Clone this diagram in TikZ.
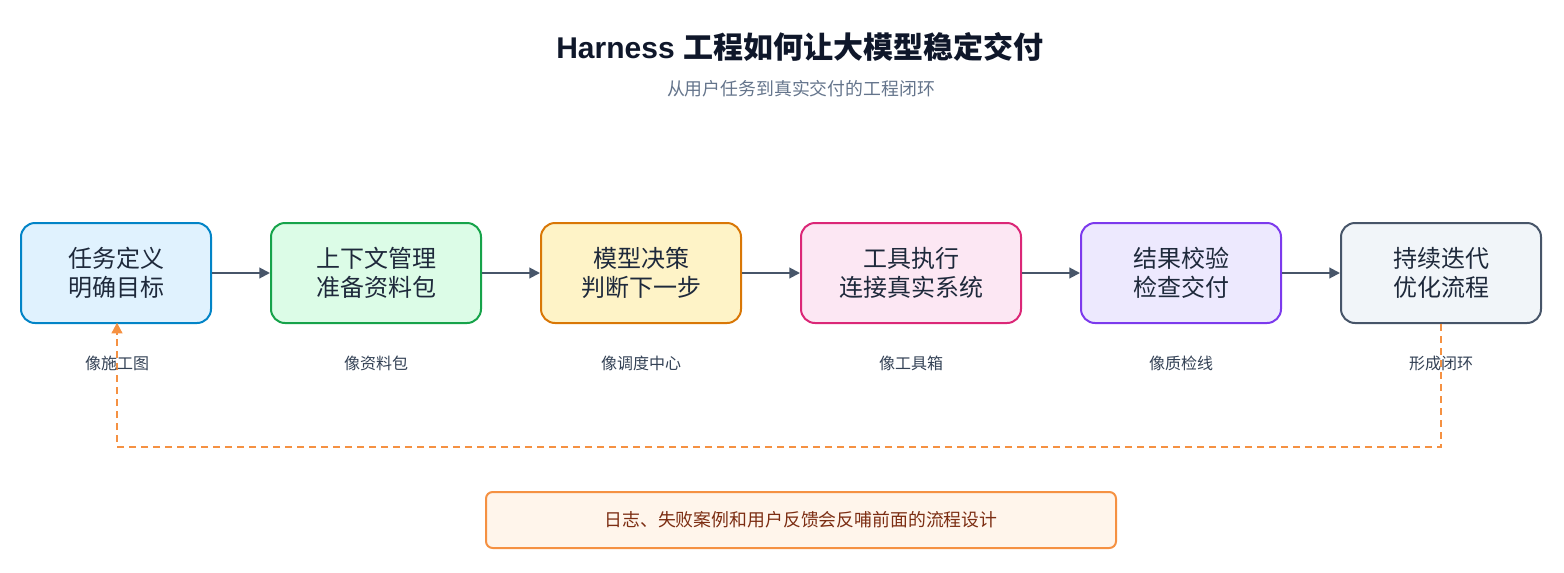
\documentclass[tikz,border=0pt]{standalone}
\usepackage{fontspec}
\setmainfont{Noto Sans CJK SC}
\newfontfamily\latinfont{Liberation Sans}
\usetikzlibrary{arrows.meta}
\definecolor{titlec}{HTML}{0F172A}
\definecolor{subc}{HTML}{64748B}
\definecolor{txtc}{HTML}{1E293B}
\definecolor{lblc}{HTML}{334155}
\definecolor{arrc}{HTML}{475569}
\definecolor{orng}{HTML}{F59142}
\definecolor{notefill}{HTML}{FFF5EB}
\definecolor{notetxt}{HTML}{7C2D12}
\definecolor{bA}{HTML}{0284C7}\definecolor{fA}{HTML}{E0F2FE}
\definecolor{bB}{HTML}{16A34A}\definecolor{fB}{HTML}{DCFCE7}
\definecolor{bC}{HTML}{D97706}\definecolor{fC}{HTML}{FEF3C7}
\definecolor{bD}{HTML}{DB2777}\definecolor{fD}{HTML}{FCE7F3}
\definecolor{bE}{HTML}{7C3AED}\definecolor{fE}{HTML}{EDE9FE}
\definecolor{bF}{HTML}{475569}\definecolor{fF}{HTML}{F1F5F9}
\tikzset{
  stagebox/.style={draw=#1, line width=1.5pt, rounded corners=10.5pt, minimum height=75pt, align=center, text=txtc, font=\fontsize{18}{21.75}\selectfont, inner sep=0pt},
  lbl/.style={text=lblc, font=\fontsize{12}{14}\selectfont, inner sep=0pt},
  flow/.style={draw=arrc, line width=1.5pt, -{Triangle[length=8pt,width=8pt]}},
  loop/.style={draw=orng, line width=1.5pt, dash pattern=on 5pt off 4pt},
}
\begin{document}
\begin{tikzpicture}[x=0.75pt,y=-0.75pt]
\useasboundingbox (0,0) rectangle (1564,572);
\node[text=titlec, font=\fontsize{22.5}{26}\selectfont\bfseries] (title) at (800,47) {{\latinfont\bfseries Harness}\hspace{0.3em}工程如何让大模型稳定交付};
\node[text=subc, font=\fontsize{13.4}{16}\selectfont] (sub) at (801,89) {从用户任务到真实交付的工程闭环};

\node[stagebox=bA, fill=fA, minimum width=142.5pt] (s1) at (116,273) {任务定义\\明确目标};
\node[stagebox=bB, fill=fB, minimum width=157.5pt] (s2) at (376,273) {上下文管理\\准备资料包};
\node[stagebox=bC, fill=fC, minimum width=150pt] (s3) at (641,273) {模型决策\\判断下一步};
\node[stagebox=bD, fill=fD, minimum width=165pt] (s4) at (911,273) {工具执行\\连接真实系统};
\node[stagebox=bE, fill=fE, minimum width=150pt] (s5) at (1181,273) {结果校验\\检查交付};
\node[stagebox=bF, fill=fF, minimum width=150pt] (s6) at (1441,273) {持续迭代\\优化流程};

\draw[flow] (s1) -- (s2);
\draw[flow] (s2) -- (s3);
\draw[flow] (s3) -- (s4);
\draw[flow] (s4) -- (s5);
\draw[flow] (s5) -- (s6);

\coordinate (c1) at (1441,447);
\coordinate (c2) at (117,447);
\draw[loop] (s6.south) -- (c1) -- (c2) -- ([yshift=1pt]s1.south -| c2);
\draw[orng, line width=1.5pt, -{Triangle[length=8pt,width=8pt]}] (117,335) -- ([yshift=1pt]s1.south -| c2);

\node[lbl] (l1) at (117,363) {像施工图};
\node[lbl] (l2) at (376,363) {像资料包};
\node[lbl] (l3) at (641,363) {像调度中心};
\node[lbl] (l4) at (911,363) {像工具箱};
\node[lbl] (l5) at (1181,363) {像质检线};
\node[lbl] (l6) at (1441,363) {形成闭环};

\node[draw=orng, fill=notefill, line width=1.5pt, rounded corners=5pt, minimum width=472.5pt, minimum height=42pt, text=notetxt, font=\fontsize{13.4}{16}\selectfont] (note) at (801,520) {日志、失败案例和用户反馈会反哺前面的流程设计};
\end{tikzpicture}
\end{document}
